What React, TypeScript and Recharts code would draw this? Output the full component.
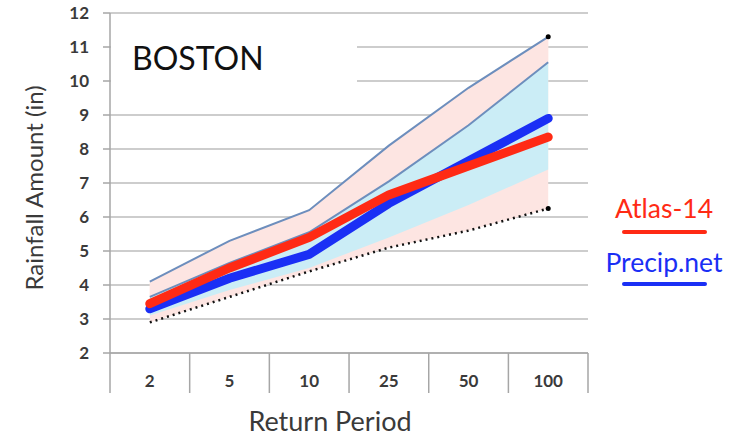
import {
  Area,
  CartesianGrid,
  ComposedChart,
  Legend,
  Line,
  XAxis,
  YAxis,
} from "recharts";

const categories = ["2", "5", "10", "25", "50", "100"];
const atlas14 = [3.45, 4.5, 5.4, 6.65, 7.5, 8.35];
const precipNet = [3.3, 4.2, 4.9, 6.4, 7.65, 8.9];
const atlasUpper = [4.1, 5.3, 6.2, 8.1, 9.8, 11.3];
const atlasLower = [2.9, 3.65, 4.4, 5.1, 5.6, 6.25];
const precipUpper = [3.65, 4.65, 5.55, 7.05, 8.7, 10.55];
const precipLower = [3.1, 3.85, 4.5, 5.4, 6.35, 7.4];
const yTicks = [2, 3, 4, 5, 6, 7, 8, 9, 10, 11, 12];

const data = categories.map((period, i) => ({
  period,
  atlas14: atlas14[i],
  precipNet: precipNet[i],
  atlasUpper: atlasUpper[i],
  atlasLower: atlasLower[i],
  atlasBand: [atlasLower[i], atlasUpper[i]],
  precipBand: [precipLower[i], precipUpper[i]],
  upperBand: [precipUpper[i], atlasUpper[i]],
}));

const font = "Lato, 'Open Sans', sans-serif";
const axisGray = "#a6a6a6";
const textGray = "#3a3a3a";
const pink = "#fde5e2";
const lightBlue = "#cbedf6";
const halfBand = 39.8;

const legendItems = [
  { name: "Atlas-14", color: "#ff2a14" },
  { name: "Precip.net", color: "#1a2ff5" },
];

const XTick = (props: any) => {
  const { x, y, payload, index } = props;
  const last = index === categories.length - 1;
  return (
    <g>
      <line x1={x - halfBand} x2={x - halfBand} y1={y} y2={y + 40} stroke={axisGray} strokeWidth={1.5} />
      {last && (
        <line x1={x + halfBand} x2={x + halfBand} y1={y} y2={y + 40} stroke={axisGray} strokeWidth={1.5} />
      )}
      <text
        x={x}
        y={y + 27}
        textAnchor="middle"
        dominantBaseline="central"
        fill={textGray}
        fontSize={17}
        fontWeight={700}
        fontFamily={font}
      >
        {payload.value}
      </text>
    </g>
  );
};

const EndDot = (props: any) => {
  const { cx, cy, index } = props;
  if (index !== categories.length - 1) return <g key={`d${index}`} />;
  return <circle key={`d${index}`} cx={cx} cy={cy} r={2.5} fill="#000" />;
};

const LegendBox = () => (
  <div style={{ fontFamily: font, width: 132, textAlign: "center" }}>
    {legendItems.map((item, i) => (
      <div key={item.name} style={{ marginTop: i === 0 ? 0 : 13 }}>
        <div style={{ height: 30, lineHeight: "30px", fontSize: 26.5, color: item.color }}>
          {item.name}
        </div>
        <div
          style={{
            width: 85,
            height: 4,
            background: item.color,
            margin: `${i === 0 ? 7 : 5}px auto 0`,
            borderRadius: 2,
          }}
        />
      </div>
    ))}
  </div>
);

export default function App() {
  return (
    <div style={{ position: "absolute", left: 0, top: 0, width: 730, height: 437, background: "#fff" }}>
      <ComposedChart
        width={730}
        height={437}
        data={data}
        margin={{ top: 13, right: 142, left: 70, bottom: 0 }}
      >
        <CartesianGrid vertical={false} stroke="#bdbdbd" strokeWidth={1.5} />
        <XAxis
          dataKey="period"
          height={84}
          tickSize={0}
          tickMargin={0}
          interval={0}
          padding={{ left: halfBand, right: halfBand }}
          axisLine={{ stroke: axisGray, strokeWidth: 1.5 }}
          tick={<XTick />}
          label={(p: any) => {
            const vb = p.viewBox;
            return (
              <text
                x={vb.x + vb.width / 2 - 19}
                y={vb.y + 67}
                textAnchor="middle"
                dominantBaseline="central"
                fill={textGray}
                fontSize={27}
                fontFamily={font}
              >
                Return Period
              </text>
            );
          }}
        />
        <YAxis
          type="number"
          domain={[2, 12]}
          ticks={yTicks}
          interval={0}
          width={40}
          tickSize={7}
          tickMargin={14}
          axisLine={{ stroke: axisGray, strokeWidth: 1.5 }}
          tickLine={{ stroke: axisGray, strokeWidth: 1.5 }}
          tick={{ fill: textGray, fontSize: 17, fontWeight: 700, fontFamily: font }}
          label={(p: any) => {
            const vb = p.viewBox;
            const cx = vb.x - 37;
            const cy = vb.y + vb.height / 2 + 5;
            return (
              <text
                x={cx}
                y={cy}
                transform={`rotate(-90 ${cx} ${cy})`}
                textAnchor="middle"
                dominantBaseline="central"
                fill={textGray}
                fontSize={24}
                fontFamily={font}
              >
                Rainfall Amount (in)
              </text>
            );
          }}
        />
        <Area
          dataKey="atlasBand"
          type="linear"
          fill={pink}
          fillOpacity={1}
          stroke="none"
          legendType="none"
          isAnimationActive={false}
        />
        <Area
          dataKey="precipBand"
          type="linear"
          fill={lightBlue}
          fillOpacity={1}
          stroke="none"
          legendType="none"
          isAnimationActive={false}
        />
        <Line
          dataKey="atlasLower"
          type="linear"
          stroke="#111"
          strokeWidth={2.5}
          strokeDasharray="2 4"
          dot={<EndDot />}
          activeDot={false}
          legendType="none"
          isAnimationActive={false}
        />
        <Area
          dataKey="upperBand"
          type="linear"
          fill={pink}
          fillOpacity={1}
          stroke="#6d8ebd"
          strokeWidth={2}
          legendType="none"
          isAnimationActive={false}
        />
        <Line
          dataKey="atlasUpper"
          type="linear"
          stroke="none"
          dot={<EndDot />}
          activeDot={false}
          legendType="none"
          isAnimationActive={false}
        />
        <Line
          name="Precip.net"
          dataKey="precipNet"
          type="linear"
          stroke="#1a2ff5"
          strokeWidth={9}
          strokeLinecap="round"
          dot={false}
          activeDot={false}
          isAnimationActive={false}
        />
        <Line
          name="Atlas-14"
          dataKey="atlas14"
          type="linear"
          stroke="#ff2a14"
          strokeWidth={9}
          strokeLinecap="round"
          dot={false}
          activeDot={false}
          isAnimationActive={false}
        />
        <Legend
          layout="vertical"
          align="center"
          verticalAlign="middle"
          wrapperStyle={{ left: 598, top: 193, width: 132 }}
          content={<LegendBox />}
        />
      </ComposedChart>
      <div
        style={{
          position: "absolute",
          left: 111,
          top: 25,
          width: 246,
          height: 66,
          background: "#fff",
          fontFamily: font,
          fontSize: 32,
          color: "#111",
          lineHeight: "66px",
          paddingLeft: 21,
          boxSizing: "border-box",
        }}
      >
        BOSTON
      </div>
    </div>
  );
}
